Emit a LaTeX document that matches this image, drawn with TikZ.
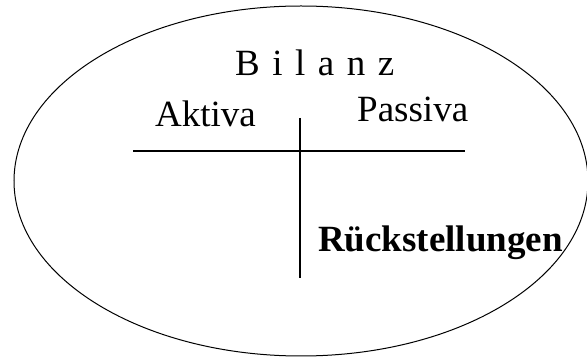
\documentclass[tikz,border=0pt]{standalone}
\usepackage{fontspec}
\setmainfont{Liberation Serif}
\usepackage{tikz}

\tikzset{
  label text/.style = { anchor = base west, inner sep = 0, font = \fontsize{37}{40}\selectfont },
  account line/.style = { line width = 1.3pt }
}

\begin{document}
\begin{tikzpicture}[x = 1pt, y = -1pt]

\useasboundingbox ( 0, 0 ) rectangle ( 587, 358 );

% Outline
\draw [line width = 1pt] ( 301, 181 ) ellipse [x radius = 287, y radius = 175];

% Title
\node [label text] (bilanz) at ( 235, 76 ) {B\hspace{12.5pt}i\hspace{12.5pt}l\hspace{12.5pt}a\hspace{12.5pt}n\hspace{12.5pt}z};

% T-account
\draw [account line] ( 133, 151 ) -- ( 465, 151 );
\draw [account line] ( 300, 118 ) -- ( 300, 278 );

\node [label text] (aktiva) at ( 155, 127 ) {Aktiva};
\node [label text] (passiva) at ( 357, 122 ) {Passiva};
\node [label text, font = \fontsize{37}{40}\selectfont\bfseries] (rueckstellungen) at ( 318, 252 ) {Rückstellungen};

\end{tikzpicture}
\end{document}
